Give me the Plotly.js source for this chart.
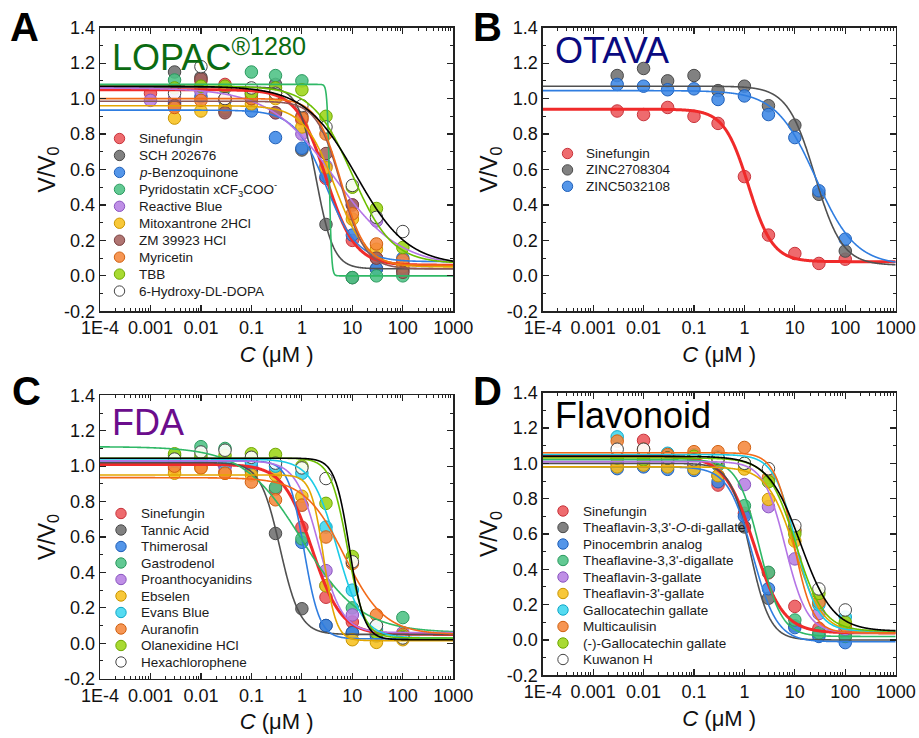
<!DOCTYPE html>
<html>
<head>
<meta charset="utf-8">
<script src="https://cdn.plot.ly/plotly-3.0.1.min.js"></script>
<style>html,body{margin:0;padding:0;background:#fff;} #chart{width:919px;height:738px;}</style>
</head>
<body>
<div id="chart"></div>
<script>
// ---------- tick labels ----------
const xTickVals = [1e-4, 1e-3, 0.01, 0.1, 1, 10, 100, 1000];
const xTickText = ['1E-4', '0.001', '0.01', '0.1', '1', '10', '100', '1000'];
const yTickVals = [-0.2, 0, 0.2, 0.4, 0.6, 0.8, 1.0, 1.2, 1.4];
const yTickText = ['-0.2', '0.0', '0.2', '0.4', '0.6', '0.8', '1.0', '1.2', '1.4'];

// ---------- Panel A : LOPAC 1280 ----------
const concA = [0.001, 0.003, 0.01, 0.03, 0.1, 0.3, 1, 3, 10, 30, 100];
const namesA = ['Sinefungin', 'SCH 202676', '<i>p</i>-Benzoquinone', 'Pyridostatin xCF<sub>3</sub>COO<sup>-</sup>',
  'Reactive Blue', 'Mitoxantrone 2HCl', 'ZM 39923 HCl', 'Myricetin', 'TBB', '6-Hydroxy-DL-DOPA'];
const valuesA = [
  [1.03, 0.97, 1.10, 1.08, 1.03, 1.03, 0.88, 0.55, 0.20, 0.10, 0.07],
  [null, 1.15, 1.12, 0.93, 1.05, 1.08, 0.71, 0.29, -0.01, 0.04, 0.03],
  [null, 0.98, 1.01, 0.99, 0.93, 0.78, 0.72, 0.56, 0.23, 0.04, 0.10],
  [null, 1.105, 1.07, 1.06, 1.15, 1.13, 1.10, null, -0.01, 0.00, 0.00],
  [0.99, 1.00, 1.04, 1.00, 1.02, 0.92, 0.80, 0.62, 0.40, 0.31, 0.07],
  [null, 0.89, 0.93, 0.95, 0.97, 1.00, 0.84, 0.61, 0.32, 0.15, 0.05],
  [null, 0.96, 1.11, 0.92, 1.00, 0.92, 0.90, 0.69, 0.40, 0.10, 0.02],
  [null, 0.95, 0.99, 1.00, 1.00, 1.03, 0.89, 0.80, 0.35, 0.18, 0.09],
  [null, 1.06, 1.07, 1.07, 1.03, 1.06, 1.05, 0.90, 0.50, 0.38, 0.16],
  [null, 1.03, 1.18, 1.00, 1.06, 1.03, 0.96, 0.84, 0.51, 0.33, 0.25]
];
const topA    = [1.05, 1.065, 0.935, 1.08, 1.06, 0.96, 0.985, 1.00, 1.07, 1.07];
const bottomA = [0.06, 0.04, 0.08, 0.00, 0.05, 0.05, 0.04, 0.06, 0.07, 0.06];
const ic50A   = [3.0, 1.9, 3.0, 3.5, 4.4, 4.5, 6.0, 6.0, 10, 12];
const hillA   = [1.5, 2.5, 1.4, 20, 0.67, 1.4, 1.8, 1.8, 1.1, 0.85];
const colorKeysA = ['red', 'gray', 'blue', 'green', 'purple', 'yellow', 'brown', 'orange', 'lime', 'white'];

// ---------- Panel B : OTAVA ----------
const concB = [0.003, 0.01, 0.03, 0.1, 0.3, 1, 3, 10, 30, 100];
const namesB = ['Sinefungin', 'ZINC2708304', 'ZINC5032108'];
const valuesB = [
  [0.93, 0.91, 0.95, 0.90, 0.86, 0.56, 0.23, 0.126, 0.07, 0.094],
  [1.13, 1.17, 1.10, 1.13, 1.045, 1.07, 0.96, 0.85, 0.46, 0.14],
  [1.08, 1.07, 1.05, 1.055, 0.995, 1.015, 0.91, 0.78, 0.48, 0.207]
];
const topB    = [0.94, 1.07, 1.045];
const bottomB = [0.08, 0.06, 0.06];
const ic50B   = [1.2, 25, 26];
const hillB   = [1.8, 1.6, 1.1];
const colorKeysB = ['red', 'gray', 'blue'];

// ---------- Panel C : FDA ----------
const concC = [0.003, 0.01, 0.03, 0.1, 0.3, 1, 3, 10, 30, 100];
const namesC = ['Sinefungin', 'Tannic Acid', 'Thimerosal', 'Gastrodenol', 'Proanthocyanidins',
  'Ebselen', 'Evans Blue', 'Auranofin', 'Olanexidine HCl', 'Hexachlorophene'];
const valuesC = [
  [0.99, 1.00, 0.97, 0.99, 0.87, 0.655, 0.26, 0.12, 0.06, 0.04],
  [1.02, 1.03, 1.00, 0.97, 0.62, 0.195, 0.10, 0.06, 0.05, 0.03],
  [1.03, 1.04, 1.02, 1.00, 0.97, 0.57, 0.10, 0.06, 0.04, 0.03],
  [1.06, 1.11, 1.10, 1.03, 0.88, 0.59, 0.325, 0.20, 0.10, 0.145],
  [1.01, 1.02, 1.00, 1.00, 0.97, 0.78, 0.41, 0.16, 0.08, 0.06],
  [0.96, 0.99, 0.96, 0.95, 0.95, 0.83, 0.325, 0.02, 0.005, 0.02],
  [1.03, 1.04, 1.02, 1.02, 1.00, 0.96, 0.656, 0.30, 0.07, 0.04],
  [1.00, 0.99, 0.96, 0.91, 0.81, 0.78, 0.60, 0.45, 0.16, 0.05],
  [1.07, 1.06, 1.06, 1.07, 1.066, 1.00, 0.79, 0.49, 0.06, 0.04],
  [1.04, 1.08, 1.09, 1.05, 1.017, 0.99, 0.93, 0.46, 0.10, 0.03]
];
const topC    = [1.01, 1.02, 1.03, 1.11, 1.03, 0.95, 1.04, 0.935, 1.045, 1.045];
const bottomC = [0.05, 0.05, 0.025, 0.06, 0.06, 0.015, 0.03, 0.05, 0.03, 0.02];
const ic50C   = [1.6, 0.37, 1.1, 1.0, 2.2, 2.7, 5.0, 7.0, 8.0, 8.8];
const hillC   = [1.5, 2.2, 2.8, 0.75, 1.9, 3.5, 1.7, 1.1, 2.6, 3.0];
const colorKeysC = ['red', 'gray', 'blue', 'green', 'purple', 'yellow', 'cyan', 'orange', 'lime', 'white'];

// ---------- Panel D : Flavonoid ----------
const concD = [0.003, 0.01, 0.03, 0.1, 0.3, 1, 3, 10, 30, 100];
const namesD = ['Sinefungin', "Theaflavin-3,3'-<i>O</i>-di-gallate", 'Pinocembrin analog', "Theaflavine-3,3'-digallate",
  'Theaflavin-3-gallate', "Theaflavin-3'-gallate", 'Gallocatechin gallate', 'Multicaulisin',
  '(-)-Gallocatechin gallate', 'Kuwanon H'];
const valuesD = [
  [1.04, 1.13, 1.02, 1.00, 0.877, 0.717, 0.38, 0.19, 0.066, 0.06],
  [1.00, 1.02, 1.01, 0.99, 0.93, 0.64, 0.236, 0.08, 0.03, 0.02],
  [0.97, 0.98, 0.966, 0.96, 0.896, 0.70, 0.29, 0.07, 0.02, -0.015],
  [1.03, 1.02, 1.04, 1.03, 0.99, 0.76, 0.383, 0.113, 0.04, 0.02],
  [1.00, 1.01, 1.00, 1.00, 1.00, 0.88, 0.755, 0.459, 0.15, 0.06],
  [0.98, 0.99, 0.98, 0.97, 0.93, 0.968, 0.796, 0.56, 0.21, 0.09],
  [1.15, 1.05, 1.057, 1.05, 1.04, 1.00, 0.90, 0.62, 0.20, 0.13],
  [1.126, 1.08, 1.05, 1.066, 1.066, 1.09, 0.92, 0.62, 0.213, 0.08],
  [1.03, 1.02, 1.03, 1.04, 1.02, 1.00, 0.896, 0.60, 0.264, 0.10],
  [1.08, 1.08, 1.03, 1.02, 1.028, 1.00, 0.97, 0.647, 0.289, 0.17]
];
const topD    = [1.04, 1.00, 0.98, 1.02, 1.01, 0.98, 1.05, 1.06, 1.03, 1.04];
const bottomD = [0.04, 0.00, -0.01, 0.02, 0.04, 0.04, 0.05, 0.04, 0.05, 0.05];
const ic50D   = [1.55, 1.3, 1.45, 2.0, 6.5, 10, 10.5, 9.5, 10.5, 13];
const hillD   = [1.5, 2.2, 1.8, 2.0, 2.0, 1.6, 2.0, 2.3, 1.6, 1.35];
const colorKeysD = ['red', 'gray', 'blue', 'green', 'purple', 'yellow', 'cyan', 'orange', 'lime', 'white'];

// ---------- styles ----------
const palette = {
  red:    {fill: 'rgba(236,86,90,0.88)',  edge: '#c8343c', line: '#f02a2a', width: 3},
  gray:   {fill: 'rgba(112,112,112,0.88)', edge: '#4a4a4a', line: '#505050', width: 1.6},
  blue:   {fill: 'rgba(60,135,230,0.88)', edge: '#1f5fb8', line: '#2f7de0', width: 1.6},
  green:  {fill: 'rgba(76,193,132,0.88)', edge: '#2b9a5f', line: '#2fb866', width: 1.6},
  purple: {fill: 'rgba(182,127,227,0.88)', edge: '#8a55c0', line: '#b474e6', width: 1.6},
  yellow: {fill: 'rgba(247,192,30,0.88)', edge: '#c99500', line: '#e3a600', width: 1.6},
  brown:  {fill: 'rgba(165,98,95,0.88)',  edge: '#7a4040', line: '#8e5656', width: 1.6},
  orange: {fill: 'rgba(245,136,60,0.88)', edge: '#d06010', line: '#f26a18', width: 1.6},
  lime:   {fill: 'rgba(159,214,28,0.9)',  edge: '#6fa800', line: '#6cbf00', width: 1.6},
  cyan:   {fill: 'rgba(61,214,239,0.88)', edge: '#10a8c8', line: '#1ccbe6', width: 1.6},
  white:  {fill: 'rgba(255,255,255,0.9)', edge: '#444444', line: '#000000', width: 1.6}
};

const FONT = 'Liberation Sans, Arial, Helvetica, sans-serif';
const W = 919, H = 738;

function hill(x, top, bottom, ic50, n) {
  return bottom + (top - bottom) / (1 + Math.pow(x / ic50, n));
}

const xs = [];
for (let i = 0; i <= 700; i++) xs.push(Math.pow(10, -4 + i * 0.01));

const traces = [];
const shapes = [];
const annotations = [];

const panels = [
  {ax: '', conc: concA, names: namesA, vals: valuesA, top: topA, bot: bottomA, ic: ic50A, n: hillA, keys: colorKeysA,
   leg: {mx: 119.5, tx: 137, y0: 138.5, dy: 16.95}},
  {ax: '2', conc: concB, names: namesB, vals: valuesB, top: topB, bot: bottomB, ic: ic50B, n: hillB, keys: colorKeysB,
   leg: {mx: 567.5, tx: 584, y0: 153.5, dy: 16.4}},
  {ax: '3', conc: concC, names: namesC, vals: valuesC, top: topC, bot: bottomC, ic: ic50C, n: hillC, keys: colorKeysC,
   leg: {mx: 121, tx: 139, y0: 513.5, dy: 16.5}},
  {ax: '4', conc: concD, names: namesD, vals: valuesD, top: topD, bot: bottomD, ic: ic50D, n: hillD, keys: colorKeysD,
   leg: {mx: 563, tx: 581, y0: 511, dy: 16.5}}
];

panels.forEach(p => {
  const xa = 'x' + p.ax, ya = 'y' + p.ax;
  // markers first
  p.names.forEach((nm, i) => {
    const c = palette[p.keys[i]];
    traces.push({
      type: 'scatter', mode: 'markers', x: p.conc, y: p.vals[i], xaxis: xa, yaxis: ya,
      name: nm, showlegend: false, hoverinfo: 'x+y+name',
      marker: {size: 12.5, color: c.fill, line: {color: c.edge, width: 1}}
    });
  });
  // fitted curves drawn over the markers
  p.names.forEach((nm, i) => {
    const c = palette[p.keys[i]];
    traces.push({
      type: 'scatter', mode: 'lines', x: xs, y: xs.map(x => hill(x, p.top[i], p.bot[i], p.ic[i], p.n[i])),
      xaxis: xa, yaxis: ya, name: nm + ' fit', showlegend: false, hoverinfo: 'skip',
      line: {color: c.line, width: c.width, shape: 'spline', smoothing: 0.3}
    });
  });
  // legend drawn as circles + text
  p.names.forEach((nm, i) => {
    const c = palette[p.keys[i]];
    const yy = p.leg.y0 + i * p.leg.dy;
    shapes.push({
      type: 'circle', xref: 'paper', yref: 'paper', xsizemode: 'pixel', ysizemode: 'pixel',
      xanchor: p.leg.mx / W, yanchor: 1 - yy / H, x0: -5.2, x1: 5.2, y0: -5.2, y1: 5.2,
      fillcolor: c.fill, line: {color: c.edge, width: 1}
    });
    annotations.push({
      xref: 'paper', yref: 'paper', x: p.leg.tx / W, y: 1 - yy / H, xanchor: 'left', yanchor: 'middle',
      text: nm, showarrow: false, font: {family: FONT, size: 13.5, color: '#1a1a1a'}
    });
  });
});

// panel letters and titles
const letters = [['A', 24, 27], ['B', 488, 27], ['C', 26, 391], ['D', 488, 391]];
letters.forEach(l => annotations.push({
  xref: 'paper', yref: 'paper', x: l[1] / W, y: 1 - l[2] / H, xanchor: 'center', yanchor: 'middle',
  text: '<b>' + l[0] + '</b>', showarrow: false, font: {family: FONT, size: 40, color: '#000'}
}));
const titles = [
  ['LOPAC<sup>®1280</sup>', 110, 55, '#0b6b12'],
  ['OTAVA', 553, 50, '#0a0a80'],
  ['FDA', 110, 423, '#6b0d8c'],
  ['Flavonoid', 553, 416, '#000000']
];
titles.forEach(t => annotations.push({
  xref: 'paper', yref: 'paper', x: t[1] / W, y: 1 - t[2] / H, xanchor: 'left', yanchor: 'middle',
  text: t[0], showarrow: false, font: {family: FONT, size: 36, color: t[3]}
}));

const minorX = [];
for (let e = -4; e < 3; e++) for (let k = 2; k <= 9; k++) minorX.push(k * Math.pow(10, e));

function xAxis(domain, anchor) {
  return {
    type: 'log', range: [-4, 3], domain: domain, anchor: anchor,
    tickmode: 'array', tickvals: xTickVals, ticktext: xTickText,
    ticks: 'inside', ticklen: 6, tickwidth: 1.2, tickcolor: '#222',
    showline: true, linecolor: '#222', linewidth: 1.3, mirror: 'allticks',
    showgrid: false, zeroline: false,
    tickfont: {family: FONT, size: 18, color: '#111'},
    minor: {ticks: 'inside', ticklen: 3, tickwidth: 1, tickcolor: '#222', showgrid: false,
      tickmode: 'array', tickvals: minorX},
    title: {text: '<i>C</i> (μM )', font: {family: FONT, size: 22, color: '#111'}, standoff: 9}
  };
}

function yAxis(domain, anchor) {
  return {
    range: [-0.2, 1.4], domain: domain, anchor: anchor,
    tickmode: 'array', tickvals: yTickVals, ticktext: yTickText,
    ticks: 'inside', ticklen: 6, tickwidth: 1.2, tickcolor: '#222',
    showline: true, linecolor: '#222', linewidth: 1.3, mirror: 'allticks',
    showgrid: false, zeroline: false,
    tickfont: {family: FONT, size: 18, color: '#111'},
    minor: {ticks: 'inside', ticklen: 3, tickwidth: 1, tickcolor: '#222', showgrid: false, dtick: 0.1, tick0: 0},
    title: {text: 'V/V<sub>0</sub>', font: {family: FONT, size: 23, color: '#111'}, standoff: 2}
  };
}

const dxL = [100 / W, 453.3 / W], dxR = [542.7 / W, 895.7 / W];
const dyT = [1 - 311.3 / H, 1 - 27.7 / H];
const dyBL = [1 - 678.7 / H, 1 - 395.3 / H], dyBR = [1 - 675.3 / H, 1 - 392.7 / H];

const layout = {
  width: W, height: H, margin: {l: 0, r: 0, t: 0, b: 0},
  paper_bgcolor: '#fff', plot_bgcolor: '#fff', showlegend: false,
  font: {family: FONT},
  xaxis: xAxis(dxL, 'y'), yaxis: yAxis(dyT, 'x'),
  xaxis2: xAxis(dxR, 'y2'), yaxis2: yAxis(dyT, 'x2'),
  xaxis3: xAxis(dxL, 'y3'), yaxis3: yAxis(dyBL, 'x3'),
  xaxis4: xAxis(dxR, 'y4'), yaxis4: yAxis(dyBR, 'x4'),
  shapes: shapes, annotations: annotations
};

Plotly.newPlot('chart', traces, layout, {displayModeBar: false, staticPlot: true});
</script>
</body>
</html>
